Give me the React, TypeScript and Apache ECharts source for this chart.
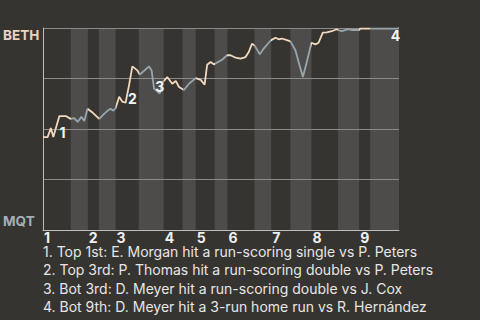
import React, { useEffect, useRef } from 'react';
import * as echarts from 'echarts';

// Half-inning boundaries along the game-progress axis (0..100)
const halfBounds = [0, 7.8, 12.6, 15.7, 20.4, 26.9, 33.9, 39.2, 42.9, 48.2, 51.8, 59.4, 64.1, 69.5, 75.4, 82.9, 88.8, 91.9, 100];
const inningStarts = [0, 12.6, 20.4, 33.9, 42.9, 51.8, 64.1, 75.4, 88.8];
const inningLabels = ['1', '2', '3', '4', '5', '6', '7', '8', '9'];

// Win probability for BETH (1 = BETH, 0 = MQT)
const probX = [0, 1.3, 2.2, 2.9, 4.6, 6.4, 7.8, 8.8, 9.7, 10.8, 11.6, 12.5, 14.0, 15.8, 17.1, 18.1, 19.0, 19.8, 20.4, 21.4, 22.3, 23.2, 24.2, 25.1, 26.5, 27.2, 29.8, 30.5, 31.2, 32.8, 33.5, 34.9, 36.3, 37.3, 38.2, 39.6, 41.0, 42.9, 44.3, 45.4, 46.1, 47.1, 48.0, 50.3, 51.7, 52.7, 54.1, 55.5, 56.9, 57.8, 58.7, 59.4, 60.9, 62.0, 63.4, 64.1, 65.3, 66.2, 67.1, 68.5, 69.5, 70.9, 71.8, 73.0, 74.1, 75.4, 76.5, 77.4, 78.6, 79.7, 81.1, 82.5, 82.9, 83.9, 85.8, 86.8, 88.8, 89.1, 91.9, 99.4, 100];
const probY = [0.46, 0.46, 0.505, 0.46, 0.564, 0.564, 0.55, 0.554, 0.535, 0.56, 0.54, 0.6, 0.58, 0.55, 0.574, 0.59, 0.6, 0.59, 0.604, 0.66, 0.635, 0.63, 0.72, 0.81, 0.79, 0.77, 0.81, 0.79, 0.70, 0.675, 0.73, 0.757, 0.724, 0.738, 0.708, 0.693, 0.724, 0.752, 0.743, 0.72, 0.818, 0.832, 0.82, 0.843, 0.865, 0.865, 0.853, 0.848, 0.856, 0.881, 0.922, 0.914, 0.87, 0.898, 0.927, 0.94, 0.952, 0.944, 0.948, 0.94, 0.934, 0.89, 0.832, 0.757, 0.832, 0.927, 0.919, 0.927, 0.977, 0.978, 0.984, 0.994, 0.99, 0.984, 0.994, 0.99, 0.99, 0.997, 0.997, 0.997, 1.0];

const annX = [5.5, 25.1, 32.8, 99.0];
const annY = [0.484, 0.65, 0.711, 0.964];
const annLabels = ['1', '2', '3', '4'];

const notes = [
  '1. Top 1st: E. Morgan hit a run-scoring single vs P. Peters',
  '2. Top 3rd: P. Thomas hit a run-scoring double vs P. Peters',
  '3. Bot 3rd: D. Meyer hit a run-scoring double vs J. Cox',
  '4. Bot 9th: D. Meyer hit a 3-run home run vs R. Hernández',
];

const BG = '#363430';
const STRIPE = '#4d4c4a';
const BEIGE = '#f2d8bd';
const BLUE = '#97a6ad';
const FONT = 'Inter';

export default function App() {
  const ref = useRef<HTMLDivElement>(null);
  useEffect(() => {
    document.body.style.margin = '0';
    document.body.style.background = BG;
    const chart = echarts.init(ref.current!, null, { renderer: 'svg' });
    const stripes: number[][] = [];
    for (let i = 1; i < halfBounds.length - 1; i += 2) stripes.push([halfBounds[i], halfBounds[i + 1]]);
    const pieces: any[] = [];
    for (let i = 0; i < halfBounds.length - 1; i++) {
      const p: any = { gte: halfBounds[i], color: i % 2 === 0 ? BEIGE : BLUE };
      if (i === halfBounds.length - 2) p.lte = halfBounds[i + 1];
      else p.lt = halfBounds[i + 1];
      pieces.push(p);
    }
    chart.setOption({
      animation: false,
      backgroundColor: BG,
      textStyle: { fontFamily: FONT },
      grid: { left: 42, right: 81, top: 28, bottom: 90, containLabel: false },
      xAxis: {
        type: 'value',
        min: 0,
        max: 100,
        splitLine: { show: false },
        axisTick: { show: false },
        axisLine: { show: true, lineStyle: { color: '#bdbcba', width: 1 } },
        axisLabel: {
          customValues: inningStarts,
          formatter: (v: number) => {
            const i = inningStarts.indexOf(v);
            return i >= 0 ? inningLabels[i] : '';
          },
          align: 'left',
          verticalAlign: 'top',
          margin: 1,
          padding: [0, 0, 0, 1],
          color: '#f0f0f0',
          fontSize: 14,
          lineHeight: 12,
          fontWeight: 'bold',
          fontFamily: FONT,
        },
      },
      yAxis: {
        type: 'value',
        min: 0,
        max: 1,
        interval: 0.25,
        splitLine: { show: true, lineStyle: { color: '#8c8b89', width: 1 } },
        axisTick: { show: false },
        axisLine: { show: true, lineStyle: { color: '#bdbcba', width: 1 } },
        axisLabel: {
          customValues: [0, 1],
          formatter: (v: number) => (v === 1 ? '{b|BETH}' : '{m|MQT}'),
          align: 'left',
          margin: 40,
          verticalAlignMaxLabel: 'top',
          verticalAlignMinLabel: 'bottom',
          rich: {
            b: { color: '#e8d3bd', fontSize: 13.5, fontWeight: 'bold', fontFamily: FONT, padding: [0, 0, 0, 0] },
            m: { color: '#a3afb5', fontSize: 13.5, fontWeight: 'bold', fontFamily: FONT, padding: [0, 0, 2, 0] },
          },
        },
      },
      visualMap: {
        type: 'piecewise',
        show: false,
        dimension: 0,
        seriesIndex: 1,
        pieces,
      },
      series: [
        {
          type: 'custom',
          z: -1,
          data: stripes,
          encode: { x: [0, 1] },
          silent: true,
          renderItem: (params: any, api: any) => {
            const a = api.coord([api.value(0), 1]);
            const b = api.coord([api.value(1), 0]);
            return {
              type: 'rect',
              shape: { x: a[0], y: a[1], width: b[0] - a[0], height: b[1] - a[1] },
              style: { fill: STRIPE },
            };
          },
        },
        {
          type: 'line',
          data: probX.map((x, i) => [x, probY[i]]),
          showSymbol: false,
          symbol: 'none',
          lineStyle: { width: 1.8 },
          z: 3,
          markPoint: {
            symbol: 'circle',
            symbolSize: 1,
            itemStyle: { color: 'transparent' },
            label: {
              show: true,
              position: 'inside',
              formatter: (p: any) => p.value,
              color: '#f4f4f4',
              fontSize: 14,
              fontWeight: 'bold',
              fontFamily: FONT,
            },
            data: annX.map((x, i) => ({ coord: [x, annY[i]], value: annLabels[i] })),
          },
        },
      ],
      graphic: notes.map((t, i) => ({
        type: 'text',
        x: 43,
        y: 246 + i * 18.3,
        style: {
          text: t,
          fill: '#e6e6e6',
          font: `14px ${FONT}`,
          lineHeight: 11,
          verticalAlign: 'top',
          align: 'left',
        },
      })),
    });
    return () => chart.dispose();
  }, []);
  return <div ref={ref} style={{ position: 'absolute', left: 0, top: 0, width: 480, height: 320, background: BG }} />;
}
